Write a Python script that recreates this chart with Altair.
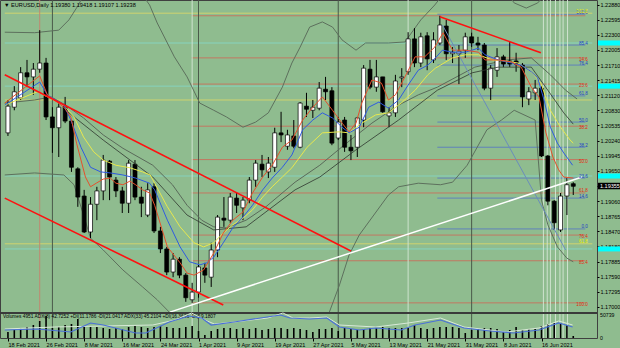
import altair as alt
import pandas as pd

FONT = "Liberation Sans"
BG = "#8fbc8f"

# ---------------- candles (EURUSD daily) ----------------
opens = [1.2039,1.2089,1.2107,1.2156,1.2148,1.2163,1.2175,1.2070,1.2049,1.2091,
         1.2062,1.1969,1.1916,1.1846,1.1900,1.1926,1.1984,1.1947,1.1926,1.1902,
         1.1978,1.1914,1.1879,1.1934,1.1848,1.1813,1.1768,1.1793,1.1762,1.1714,
         1.1729,1.1776,1.1758,1.1811,1.1873,1.1869,1.1912,1.1893,1.1908,1.1947,
         1.1978,1.1963,1.1972,1.2039,1.2013,1.2033,1.2011,1.2091,1.2083,1.2087,
         1.2124,1.2121,1.2029,1.2064,1.2011,1.2011,1.2064,1.2163,1.2128,1.2148,
         1.2072,1.2078,1.2146,1.2158,1.2222,1.2175,1.2228,1.2181,1.2214,1.2247,
         1.2193,1.2193,1.2200,1.2226,1.2214,1.2210,1.2126,1.2161,1.2187,1.2179,
         1.2179,1.2171,1.2105,1.2117,1.2126,1.1994,1.1906,1.1850,1.1916,1.1940]
highs = [1.2103,1.2130,1.2167,1.2181,1.2175,1.2239,1.2185,1.2089,1.2097,1.2109,
         1.2064,1.1972,1.1928,1.1914,1.1934,1.1996,1.1986,1.1953,1.1934,1.1986,
         1.1986,1.1934,1.1941,1.1941,1.1856,1.1817,1.1805,1.1797,1.1766,1.1747,
         1.1782,1.1786,1.1825,1.1879,1.1914,1.1922,1.1922,1.1914,1.1953,1.1986,
         1.1996,1.1992,1.2049,1.2080,1.2045,1.2064,1.2099,1.2117,1.2103,1.2138,
         1.2148,1.2128,1.2070,1.2070,1.2035,1.2070,1.2171,1.2181,1.2181,1.2148,
         1.2089,1.2152,1.2165,1.2235,1.2243,1.2234,1.2235,1.2235,1.2267,1.2259,
         1.2206,1.2210,1.2234,1.2234,1.2226,1.2214,1.2171,1.2204,1.2191,1.2216,
         1.2195,1.2175,1.2128,1.2142,1.2130,1.1996,1.1908,1.1922,1.1951,1.1943]
lows = [1.2033,1.2083,1.2103,1.2128,1.2113,1.2156,1.2064,1.2000,1.1992,1.2058,
        1.1963,1.1895,1.1844,1.1834,1.1869,1.1908,1.1908,1.1914,1.1883,1.1883,
        1.1908,1.1875,1.1875,1.1844,1.1805,1.1762,1.1758,1.1756,1.1710,1.1708,
        1.1718,1.1747,1.1739,1.1797,1.1856,1.1864,1.1883,1.1869,1.1902,1.1934,
        1.1953,1.1951,1.1963,1.2021,1.2006,1.2009,1.2009,1.2070,1.2068,1.2083,
        1.2103,1.2015,1.2025,1.2002,1.1986,1.1992,1.2050,1.2124,1.2119,1.2078,
        1.2050,1.2070,1.2128,1.2152,1.2167,1.2167,1.2161,1.2175,1.2210,1.2181,
        1.2175,1.2134,1.2185,1.2206,1.2200,1.2122,1.2103,1.2148,1.2167,1.2167,
        1.2158,1.2089,1.2093,1.2103,1.1992,1.1898,1.1850,1.1846,1.1879,1.1918]
closes = [1.2091,1.2119,1.2156,1.2148,1.2163,1.2175,1.2070,1.2049,1.2089,1.2062,
          1.1972,1.1914,1.1846,1.1900,1.1926,1.1986,1.1953,1.1926,1.1902,1.1980,
          1.1914,1.1902,1.1928,1.1848,1.1813,1.1768,1.1793,1.1762,1.1718,1.1729,
          1.1778,1.1762,1.1811,1.1875,1.1869,1.1914,1.1898,1.1908,1.1947,1.1980,
          1.1967,1.1980,1.2039,1.2035,1.2035,1.2013,1.2097,1.2085,1.2089,1.2126,
          1.2119,1.2019,1.2060,1.2011,1.2004,1.2068,1.2165,1.2128,1.2148,1.2080,
          1.2078,1.2140,1.2148,1.2222,1.2175,1.2226,1.2183,1.2220,1.2249,1.2193,
          1.2196,1.2198,1.2226,1.2214,1.2210,1.2126,1.2165,1.2187,1.2173,1.2173,
          1.2173,1.2109,1.2119,1.2126,1.1994,1.1906,1.1864,1.1916,1.1938,1.1935]
volumes = [13240,17650,22060,24270,28680,37500,48530,22060,24270,28680,
           30880,41910,24270,24270,24270,22060,19850,22060,19850,24270,
           26470,24270,22060,24270,26470,24270,22060,22060,24270,26470,
           15440,6620,15440,19850,22060,22060,19850,22060,19850,22060,
           17650,19850,22060,22060,19850,22060,19850,17650,13240,19850,
           19850,22060,15440,22060,19850,17650,19850,22060,22060,24270,
           22060,22060,22060,22060,28680,22060,19850,22060,24270,24270,
           24270,22060,11030,17650,19850,22060,22060,19850,13240,17650,
           24270,17650,19850,19850,26470,30880,33090,33090,28680,4410]
bar_idx = list(range(len(opens)))

# ---------------- axis labels ----------------
date_idx = [0, 6, 12, 18, 24, 30, 36, 42, 48, 54, 60, 66, 72, 78, 84]
date_lbl = ["18 Feb 2021", "26 Feb 2021", "8 Mar 2021", "16 Mar 2021", "24 Mar 2021",
            "1 Apr 2021", "9 Apr 2021", "19 Apr 2021", "27 Apr 2021", "5 May 2021",
            "13 May 2021", "21 May 2021", "31 May 2021", "8 Jun 2021", "16 Jun 2021"]
price_ticks = [1.22880, 1.22595, 1.22300, 1.22005, 1.21710, 1.21415, 1.21120, 1.20830,
               1.20535, 1.20240, 1.19945, 1.19650, 1.19355, 1.19060, 1.18765, 1.18470,
               1.18180, 1.17885, 1.17590, 1.17295, 1.17000]
vol_ticks = [50739, 0]
vol_tick_txt = ["50739", "0"]
header_txt = "\u25bc EURUSD,Daily  1.19380 1.19418 1.19107 1.19238"
sub_txt = ("Volumes 4951   ADX(8) 42.7252 +DI(11.1786 -DI(21.0417   "
           "ADX(33) 45.2104 +DI(16.3636 -DI(19.1807")

# ---------------- indicator lines (bar index, price) ----------------
red_i = [-0.5,5.0,6.2,8.8,9.9,10.8,12.2,13.0,13.9,15.0,16.1,17.0,18.1,19.2,20.1,21.2,22.3,23.1,25.1,27.1,
         28.2,29.3,30.8,32.4,33.9,35.4,37.0,38.5,40.1,41.6,43.2,44.7,46.4,48.0,49.5,51.1,52.6,53.7,54.8,55.7,
         57.3,58.8,59.9,61.0,62.5,64.1,65.6,67.2,68.5,70.0,72.0,74.1,75.1,77.2,79.3,80.8,82.4,83.6,84.7,85.8,
         86.7,87.5,89.0]
red_p = [1.2097,1.2150,1.2113,1.2089,1.2070,1.2019,1.1953,1.1934,1.1941,1.1949,1.1951,1.1941,1.1938,1.1945,1.1938,
         1.1928,1.1922,1.1898,1.1817,1.1786,1.1766,1.1762,1.1772,1.1805,1.1844,1.1869,1.1885,1.1922,1.1953,1.1976,
         1.2011,1.2025,1.2064,1.2089,1.2109,1.2083,1.2058,1.2041,1.2058,1.2097,1.2142,1.2136,1.2103,1.2113,1.2148,
         1.2187,1.2187,1.2206,1.2234,1.2200,1.2200,1.2196,1.2181,1.2181,1.2177,1.2167,1.2128,1.2109,1.2039,1.1992,
         1.1967,1.1953,1.1951]
blue_i = [-0.5,5.0,6.2,8.8,9.9,11.5,13.0,14.6,16.1,18.1,20.1,22.3,23.1,25.1,27.1,28.6,30.2,31.3,32.4,33.9,
          35.4,37.0,38.5,40.1,41.6,43.2,44.7,46.4,48.0,49.5,51.1,52.6,53.7,55.3,56.8,58.4,59.9,61.5,63.0,64.6,
          66.1,67.3,68.4,70.0,72.0,74.1,75.1,77.2,79.3,80.8,82.4,83.4,84.4,85.4,86.5,87.5,88.9]
blue_p = [1.2093,1.2138,1.2113,1.2093,1.2064,1.2011,1.1972,1.1963,1.1961,1.1957,1.1951,1.1941,1.1928,1.1869,1.1817,
          1.1788,1.1782,1.1786,1.1797,1.1825,1.1854,1.1875,1.1898,1.1928,1.1951,1.1972,1.1996,1.2045,1.2064,1.2078,
          1.2068,1.2050,1.2039,1.2050,1.2089,1.2099,1.2087,1.2103,1.2132,1.2161,1.2171,1.2185,1.2200,1.2196,1.2196,
          1.2204,1.2191,1.2181,1.2175,1.2171,1.2158,1.2146,1.2103,1.2050,1.2019,1.2000,1.1976]
yel_i = [-0.5,4.6,6.2,8.8,10.4,11.9,13.5,15.0,17.0,19.2,21.2,22.4,23.1,25.1,27.1,29.3,30.8,32.4,33.9,35.4,
         37.0,38.5,40.1,41.6,43.2,44.7,47.1,49.5,52.2,53.7,55.7,57.9,59.9,61.9,64.1,66.1,67.3,70.0,72.0,74.1,
         76.2,78.2,80.3,82.4,83.9,85.4,87.0,88.5,89.0]
yel_p = [1.2093,1.2119,1.2109,1.2093,1.2070,1.2031,1.2002,1.1986,1.1976,1.1971,1.1963,1.1957,1.1941,1.1895,1.1856,
         1.1825,1.1817,1.1825,1.1844,1.1860,1.1873,1.1889,1.1914,1.1934,1.1953,1.1971,1.2011,1.2039,1.2041,1.2039,
         1.2058,1.2074,1.2078,1.2097,1.2122,1.2152,1.2165,1.2185,1.2191,1.2191,1.2181,1.2179,1.2175,1.2158,1.2136,
         1.2083,1.2050,1.2025,1.2019]
mid_i = [-0.5,4.2,6.8,9.1,11.9,15.0,18.1,22.8,25.9,28.2,30.5,32.4,34.4,37.5,40.6,45.2,49.1,52.9,57.3,61.5,
         64.6,67.6,73.5,78.5,82.4,85.4,87.8,89.6]
mid_p = [1.2097,1.2103,1.2109,1.2093,1.2068,1.2035,1.2009,1.1976,1.1938,1.1898,1.1869,1.1856,1.1854,1.1869,1.1895,
         1.1943,1.1976,1.2015,1.2058,1.2093,1.2113,1.2128,1.2167,1.2181,1.2185,1.2152,1.2122,1.2105]
blk_i = [9.1,15.0,22.8,28.2,32.4,37.5,45.2,49.1,54.8,61.5,67.6,73.1,77.2,82.4,85.0,87.5,89.0]
blk_p = [1.2083,1.2025,1.1953,1.1879,1.1850,1.1856,1.1928,1.1953,1.2006,1.2064,1.2122,1.2156,1.2167,1.2167,1.2122,
         1.2078,1.2056]
ub_seg = [0]*6 + [1]*25 + [2]*5
ub_i = [-0.5,4.2,8.0,9.6,11.1,11.9,
        21.2,22.3,23.5,26.2,28.2,30.2,32.4,34.4,37.0,39.0,41.0,43.2,44.7,46.0,47.5,49.5,51.1,52.6,54.8,56.3,
        59.9,62.5,65.0,67.2,68.4,
        78.8,79.7,81.6,83.4,84.5]
ub_p = [1.2235,1.2234,1.2239,1.2259,1.2288,1.2307,
        1.2307,1.2288,1.2253,1.2187,1.2148,1.2097,1.2083,1.2070,1.2050,1.2060,1.2078,1.2128,1.2175,1.2206,1.2245,
        1.2255,1.2245,1.2220,1.2200,1.2214,1.2214,1.2216,1.2259,1.2288,1.2307,
        1.2307,1.2292,1.2282,1.2292,1.2307]
lb_seg = [0]*11 + [1]*20
lb_i = [-0.5,4.2,8.8,10.4,11.9,13.0,15.0,18.1,21.2,23.5,25.4,
        50.6,52.2,53.7,55.3,57.6,59.9,61.5,64.6,68.1,70.0,72.3,75.4,77.7,79.7,83.0,84.0,85.0,86.5,88.0,89.0]
lb_p = [1.1957,1.1961,1.1957,1.1938,1.1879,1.1834,1.1811,1.1772,1.1739,1.1714,1.1690,
        1.1690,1.1743,1.1801,1.1840,1.1879,1.1918,1.1934,1.1941,1.1938,1.1943,1.1976,1.2045,1.2064,1.2083,1.2064,
        1.1908,1.1860,1.1817,1.1795,1.1788]

# ---------------- drawn objects ----------------
chan_up_i, chan_up_p = [-0.5, 54.0], [1.2152, 1.1809]
chan_lo_i, chan_lo_p = [-0.5, 33.9], [1.1912, 1.1704]
top_red_i, top_red_p = [68.0, 83.9], [1.2265, 1.2195]
white_i, white_p = [25.5, 90.4], [1.1690, 1.1953]
steel_i, steel_p = [68.4, 87.8], [1.2249, 1.1811]

red_fib_p = [1.2267, 1.2185, 1.2134, 1.2052, 1.1987, 1.1922, 1.1840, 1.1790, 1.1708]
red_fib_lbl = ["", "14.6", "23.6", "38.2", "50.0", "61.8", "76.4", "85.4", "100.0"]
red_fib_above = [False, False, False, False, False, True, False, False, False]
red_fib_span = [28.9, 90.9]
blue_fib_p = [1.2270, 1.2210, 1.2171, 1.2111, 1.2060, 1.2011, 1.1951, 1.1912, 1.1852]
blue_fib_lbl = ["100.0", "85.4", "76.4", "61.8", "50.0", "38.2", "23.6", "14.6", "0.0"]
blue_fib_span = [67.6, 90.9]
yel_h_p = [1.2272, 1.2103, 1.1823]
yel_h_lbl = ["161.8", "", "61.8"]
full_span = [-0.5, 92.0]
cyan_p = [1.2214, 1.2130, 1.1955, 1.1813]
bid_p = [1.19355]
bid_lbl = ["1.19355"]
label_at = 91.3

v_dark = [7, 30, 52, 73]
v_light = [29, 63, 84.3, 84.9, 85.4, 86.2, 86.9, 87.4, 88.1]
v_red = [5]

adx_blue_i = [-0.5,4.6,9.9,13.0,15.0,20.1,21.7,25.4,28.5,30.5,32.0,35.6,42.9,44.4,47.5,50.2,52.2,55.3,57.9,61.9,
              64.1,68.1,71.8,75.9,79.6,83.6,86.7,88.9]
adx_blue_v = [28.8,32.4,21.6,54.0,46.8,18.0,18.0,57.6,79.2,72.0,46.8,57.6,82.8,72.0,68.4,72.0,39.6,28.8,36.0,28.8,
              46.8,64.8,36.0,25.2,18.0,28.8,54.0,39.6]
adx_light_i = [-0.5,7.3,15.0,22.8,26.3,28.9,31.0,32.5,35.6,40.9,43.3,44.9,47.5,50.2,52.2,57.9,63.0,68.1,71.8,78.5,
               83.6,86.7,88.9]
adx_light_v = [32.4,39.6,43.2,46.8,64.8,90.0,64.8,50.4,57.6,72.0,90.0,72.0,72.0,75.6,46.8,39.6,54.0,72.0,39.6,21.6,
               36.0,61.2,46.8]

# ---------------- scales & axes ----------------
W, H = 597, 338
xs = alt.Scale(domain=[-0.464, 91.95], nice=False, zero=False)
ps = alt.Scale(domain=[1.16396, 1.22977], nice=False, zero=False)
vs = alt.Scale(domain=[0, 745628], nice=False, zero=False)
ads = alt.Scale(domain=[0, 1216.8], nice=False, zero=False)

label_expr = "".join(f"datum.value == {i} ? '{s}' : " for i, s in zip(date_idx, date_lbl)) + "''"
x_axis = alt.Axis(values=date_idx, labelExpr=label_expr, orient="bottom", title="", grid=False,
                  domain=False, tickSize=3, tickColor="#000000", labelAlign="left", labelBaseline="top",
                  labelPadding=1, labelFontSize=5.6, labelColor="#000000", labelFont=FONT,
                  labelOverlap=False, labelFlush=False)
p_axis = alt.Axis(values=price_ticks, format=".5f", orient="right", title="", grid=False, domain=False,
                  tickSize=2, tickColor="#000000", labelPadding=1, labelFontSize=5.5, labelColor="#000000",
                  labelFont=FONT, labelOverlap=False, labelFlush=False)


def X(f):
    return alt.X(f"{f}:Q", scale=xs, axis=x_axis)


def P(f):
    return alt.Y(f"{f}:Q", scale=ps, axis=p_axis)


def pts(i_list, p_list, seg=None):
    d = {"i": i_list, "p": p_list}
    d["seg"] = seg if seg is not None else [0] * len(i_list)
    return pd.DataFrame(d)


def hlines(p_list, span, lbl=None, above=None):
    d = pd.DataFrame({"i0": [span[0]] * len(p_list), "i1": [span[1]] * len(p_list), "p": p_list})
    d["lbl"] = lbl if lbl is not None else [""] * len(p_list)
    d["above"] = above if above is not None else [True] * len(p_list)
    d["li"] = label_at
    return d


def line(df, color, width=1.0):
    return alt.Chart(df).mark_line(color=color, strokeWidth=width, clip=True).encode(
        x=X("i"), y=P("p"), detail="seg:N")


def hrule(df, color, width=1.0, opacity=1.0):
    return alt.Chart(df).mark_rule(color=color, strokeWidth=width, opacity=opacity).encode(
        x=X("i0"), x2="i1", y=P("p"))


def hlabels(df, color):
    out = []
    for above, baseline, dy in [(True, "bottom", 0.5), (False, "top", -1)]:
        d = df[(df["lbl"] != "") & (df["above"] == above)]
        if len(d):
            out.append(alt.Chart(d).mark_text(align="right", baseline=baseline, fontSize=4.6, font=FONT,
                                              color=color, dy=dy).encode(
                x=X("li"), y=P("p"), text="lbl:N"))
    return out


def vrule(vals, color, width=1.0):
    return alt.Chart(pd.DataFrame({"i": vals})).mark_rule(color=color, strokeWidth=width).encode(x=X("i"))


candles = pd.DataFrame({"i": bar_idx, "open": opens, "high": highs, "low": lows, "close": closes,
                        "vol": volumes})

red_df = hlines(red_fib_p, red_fib_span, red_fib_lbl, red_fib_above)
blue_df = hlines(blue_fib_p, blue_fib_span, blue_fib_lbl)
yel_df = hlines(yel_h_p, full_span, yel_h_lbl)
cyan_df = hlines(cyan_p, full_span)
bid_df = pd.DataFrame({"p": bid_p, "lbl": bid_lbl})

price_layers = [
    hrule(yel_df, "#d6d66a", 1, 0.9),
    hrule(cyan_df, "#7fe8e8", 1, 0.55),
    hrule(red_df, "#c8705c", 1, 0.9),
    hrule(blue_df, "#5b7cc0", 1, 0.9),
    vrule(v_light, "#cfe3cf", 1),
    vrule(v_red, "#c08870", 1),
    vrule(v_dark, "#4a5a4a", 1),
    line(pts(ub_i, ub_p, ub_seg), "#5d705d", 1),
    line(pts(lb_i, lb_p, lb_seg), "#5d705d", 1),
    line(pts(mid_i, mid_p), "#5a6a5a", 1),
    alt.Chart(candles).mark_rule(color="#000000", strokeWidth=1).encode(x=X("i"), y=P("low"), y2="high"),
    alt.Chart(candles).mark_bar(size=4, stroke="#000000", strokeWidth=0.7).encode(
        x=X("i"), y=P("open"), y2="close",
        fill=alt.condition("datum.close >= datum.open", alt.value("#ffffff"), alt.value("#000000"))),
    line(pts(blk_i, blk_p), "#2e362e", 0.8),
    line(pts(yel_i, yel_p), "#e8e84e", 1),
    line(pts(blue_i, blue_p), "#2f5be0", 1),
    line(pts(red_i, red_p), "#e5502c", 1),
    line(pts(steel_i, steel_p), "#6a8cbc", 1),
    line(pts(chan_up_i, chan_up_p), "#ff1010", 1.6),
    line(pts(chan_lo_i, chan_lo_p), "#ff1010", 1.6),
    line(pts(top_red_i, top_red_p), "#ff1010", 1.6),
    line(pts(white_i, white_p), "#ffffff", 1.5),
    *hlabels(red_df, "#e02a10"),
    *hlabels(blue_df, "#1f3fc8"),
    *hlabels(yel_df, "#f0f000"),
    # price flags on the right axis
    alt.Chart(cyan_df).mark_rule(color="#00ffff", strokeWidth=5).encode(
        x=alt.value(598), x2=alt.value(620), y=P("p")),
    alt.Chart(bid_df).mark_rule(color="#000000", strokeWidth=6.5).encode(
        x=alt.value(598), x2=alt.value(620), y=P("p")),
    alt.Chart(bid_df).mark_text(align="left", fontSize=5.5, font=FONT, color="#ffffff").encode(
        x=alt.value(600), y=P("p"), text="lbl:N"),
    # sub-window separator and header texts
    alt.Chart(pd.DataFrame({"t": [0]})).mark_rule(color="#3a3a3a", strokeWidth=2).encode(
        x=alt.value(0), x2=alt.value(W), y=alt.value(313)),
    alt.Chart(pd.DataFrame({"t": [header_txt]})).mark_text(
        align="left", baseline="middle", fontSize=5.6, font=FONT, color="#000000").encode(
        x=alt.value(4), y=alt.value(4.5), text="t:N"),
    alt.Chart(pd.DataFrame({"t": [sub_txt]})).mark_text(
        align="left", baseline="middle", fontSize=4.8, font=FONT, color="#000000").encode(
        x=alt.value(3), y=alt.value(316.5), text="t:N"),
]
price_group = alt.layer(*price_layers)

vol_df = pd.DataFrame({"v": vol_ticks, "t": vol_tick_txt})
vol_group = alt.layer(
    alt.Chart(candles).mark_bar(size=1.6, color="#000000").encode(
        x=X("i"), y=alt.Y("vol:Q", scale=vs, axis=None)),
    alt.Chart(vol_df).mark_text(align="left", baseline="middle", fontSize=5.2, font=FONT,
                                color="#000000").encode(
        x=alt.value(600), y=alt.Y("v:Q", scale=vs, axis=None), text="t:N"),
)

adx_group = alt.layer(
    alt.Chart(pd.DataFrame({"i": adx_light_i, "v": adx_light_v})).mark_line(
        color="#d9e9d9", strokeWidth=1).encode(x=X("i"), y=alt.Y("v:Q", scale=ads, axis=None)),
    alt.Chart(pd.DataFrame({"i": adx_blue_i, "v": adx_blue_v})).mark_line(
        color="#4a6fd8", strokeWidth=1.2).encode(x=X("i"), y=alt.Y("v:Q", scale=ads, axis=None)),
)

chart = alt.layer(price_group, vol_group, adx_group).resolve_scale(y="independent").properties(
    width=W, height=H,
    autosize=alt.AutoSizeParams(type="none"),
    padding={"left": 0, "top": 0, "right": 23, "bottom": 10},
    background=BG,
).configure_view(stroke="#404040", strokeWidth=1, fill=BG)

chart.save("out.html", embed_options={"renderer": "svg", "actions": False})
